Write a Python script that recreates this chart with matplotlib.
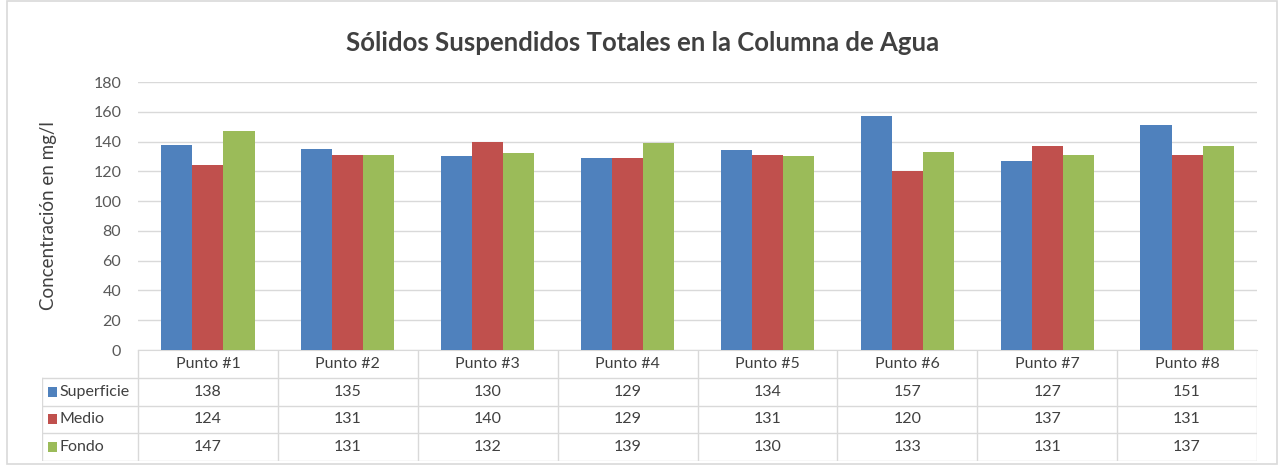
import matplotlib.pyplot as plt
import numpy as np
from matplotlib.patches import Rectangle

plt.rcParams['font.family'] = ['Lato', 'DejaVu Sans']

puntos = ['Punto #1', 'Punto #2', 'Punto #3', 'Punto #4',
          'Punto #5', 'Punto #6', 'Punto #7', 'Punto #8']
series = ['Superficie', 'Medio', 'Fondo']
superficie = [138, 135, 130, 129, 134, 157, 127, 151]
medio = [124, 131, 140, 129, 131, 120, 137, 131]
fondo = [147, 131, 132, 139, 130, 133, 131, 137]
colors = ['#4F81BD', '#C0504D', '#9BBB59']
yticks = [0, 20, 40, 60, 80, 100, 120, 140, 160, 180]

W, H = 1281, 466
fig = plt.figure(figsize=(W / 100, H / 100), dpi=100)

def fx(px):
    return px / W

def fy(py):
    return 1 - py / H

# chart border
fig.patches.append(Rectangle((fx(7), fy(464)), fx(1277) - fx(7), fy(1) - fy(464),
                             transform=fig.transFigure, fill=False,
                             edgecolor='#D9D9D9', lw=1.2))

# plot area
left, right, top, bottom = 138, 1257, 82, 350
ax = fig.add_axes([fx(left), fy(bottom), fx(right) - fx(left), fy(top) - fy(bottom)])
x = np.arange(len(puntos))
bw = 0.222
data = [superficie, medio, fondo]
for i, (vals, c) in enumerate(zip(data, colors)):
    ax.bar(x + (i - 1) * bw, vals, width=bw, color=c, zorder=3)

ax.set_xlim(-0.5, len(puntos) - 0.5)
ax.set_ylim(0, 180)
ax.set_yticks(yticks)
ax.yaxis.grid(True, color='#D9D9D9', lw=1)
ax.set_axisbelow(True)
ax.set_xticks([])
for s in ['top', 'right', 'left']:
    ax.spines[s].set_visible(False)
ax.spines['bottom'].set_color('#D9D9D9')
ax.tick_params(axis='y', length=0, labelsize=11.5, colors='#595959', pad=12)
ax.set_ylabel('Concentración en mg/l', fontsize=13.5, color='#404040', labelpad=26)

# data table
tleft = 42
cat_px = (right - left) / len(puntos)
ext = (left - tleft) / cat_px
tax = fig.add_axes([fx(tleft), fy(461), fx(right) - fx(tleft), fy(350) - fy(461)])
tax.set_xlim(-0.5 - ext, len(puntos) - 0.5)
tax.set_ylim(4, 0)
tax.axis('off')
lc = '#D9D9D9'
for k in range(len(puntos) + 1):
    tax.plot([k - 0.5, k - 0.5], [0, 4], color=lc, lw=1)
tax.plot([-0.5 - ext, -0.5 - ext], [1, 4], color=lc, lw=1)
for r in [1, 2, 3, 4]:
    tax.plot([-0.5 - ext, len(puntos) - 0.5], [r, r], color=lc, lw=1)
for k, p in enumerate(puntos):
    tax.text(k, 0.5, p, ha='center', va='center', fontsize=11.5, color='#404040')
for r, (name, vals, c) in enumerate(zip(series, data, colors), start=1):
    tax.add_patch(Rectangle((-0.5 - ext + 0.045, r + 0.32), 0.065, 0.36,
                            facecolor=c, edgecolor='none'))
    tax.text(-0.5 - ext + 0.125, r + 0.5, name, ha='left', va='center',
             fontsize=11.5, color='#404040')
    for k, v in enumerate(vals):
        tax.text(k, r + 0.5, str(v), ha='center', va='center', fontsize=11.5, color='#404040')

fig.text(fx(643), fy(43), 'Sólidos Suspendidos Totales en la Columna de Agua',
         ha='center', va='center', fontsize=18.5, fontweight='bold', color='#404040')

fig.savefig('out.png', dpi=100)
